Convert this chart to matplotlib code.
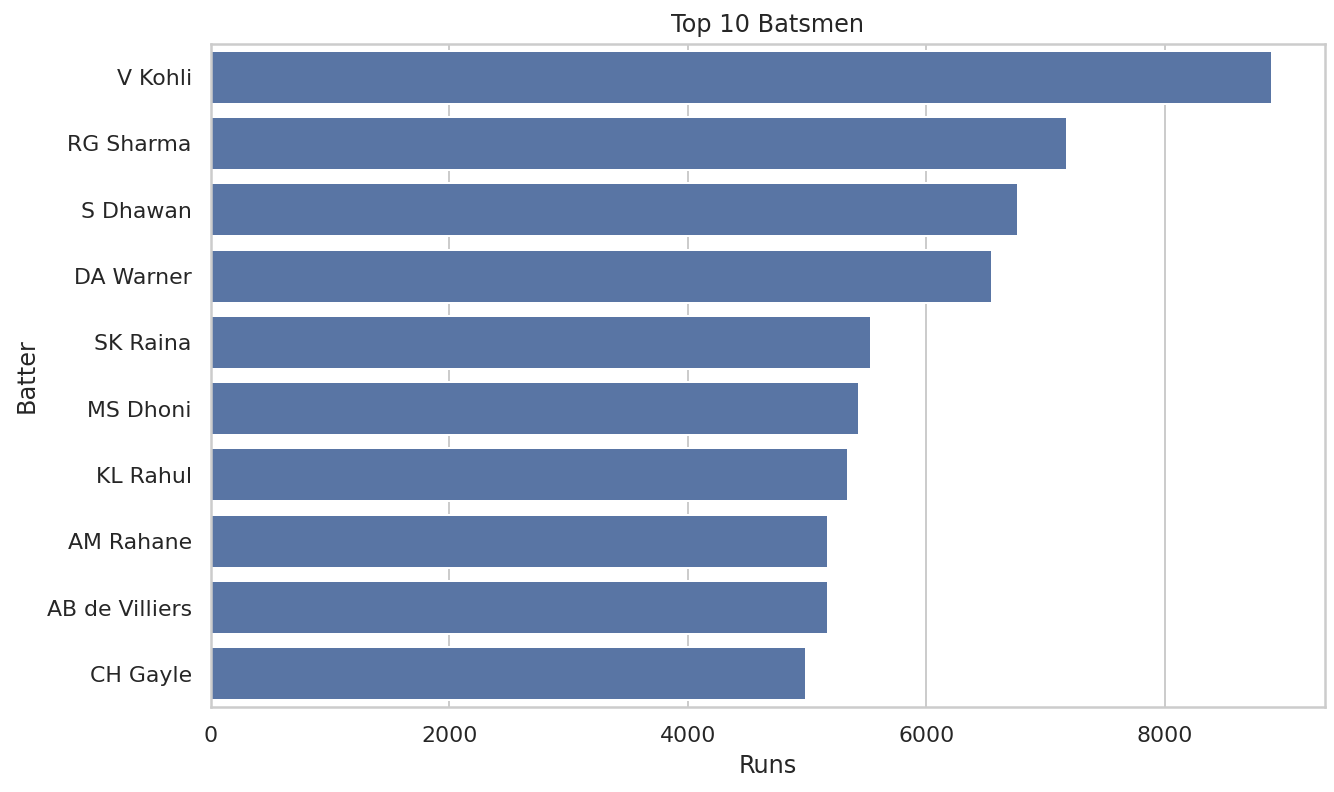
import matplotlib
matplotlib.use("Agg")
from matplotlib import pyplot as plt
import seaborn as sns

batters = ["V Kohli", "RG Sharma", "S Dhawan", "DA Warner", "SK Raina",
           "MS Dhoni", "KL Rahul", "AM Rahane", "AB de Villiers", "CH Gayle"]
runs = [8900, 7177, 6766, 6555, 5536, 5440, 5343, 5175, 5175, 4995]

sns.set_theme(style="whitegrid")

fig, ax = plt.subplots(figsize=(1334 / 144, 792 / 144), dpi=144)
fig.subplots_adjust(left=0.158, right=0.9933, top=0.9444, bottom=0.1073)

sns.barplot(x=runs, y=batters, color="#4c72b0", ax=ax)

ax.set_title("Top 10 Batsmen")
ax.set_xlabel("Runs")
ax.set_ylabel("Batter")

plt.savefig("out.png", dpi=144)
